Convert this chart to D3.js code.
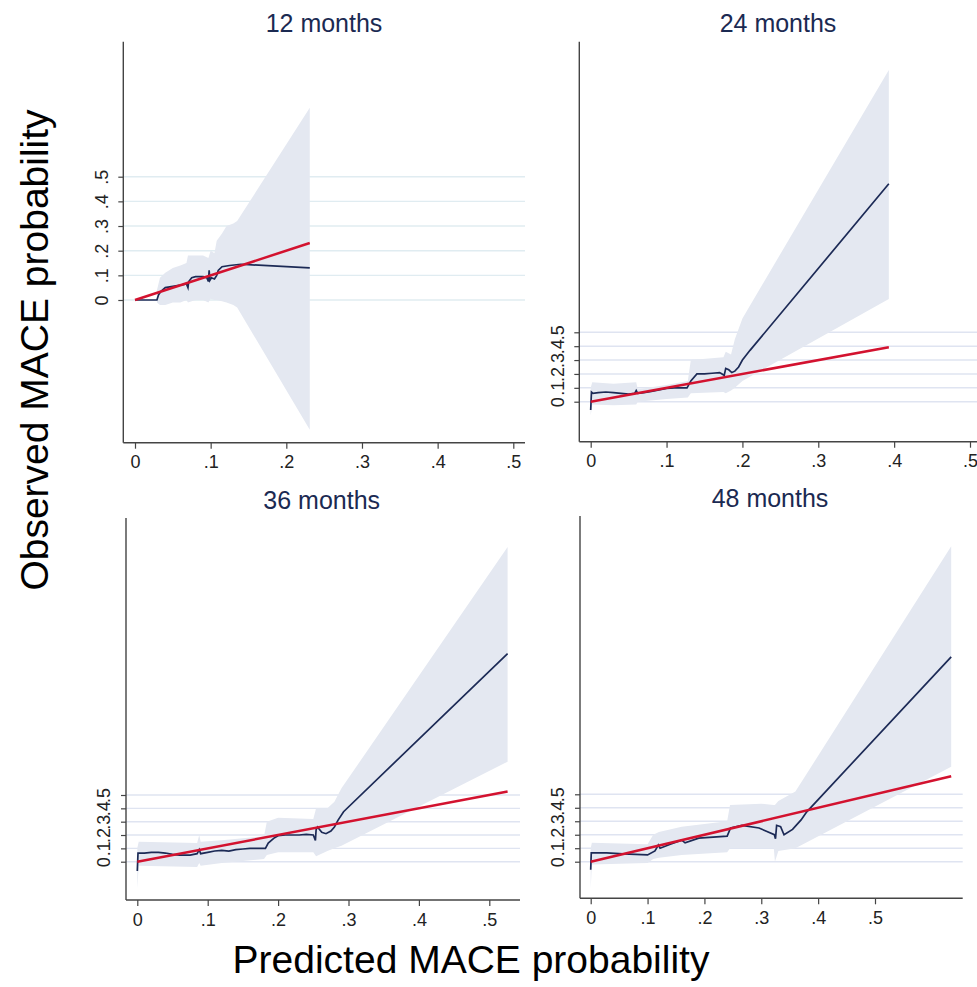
<!DOCTYPE html>
<html>
<head>
<meta charset="utf-8">
<script src="https://cdn.jsdelivr.net/npm/d3@7"></script>
<style>
  body { margin: 0; background: #fff; }
  svg { display: block; font-family: "Liberation Sans", Arial, sans-serif; }
</style>
</head>
<body>
<svg id="chart" width="977" height="987"></svg>
<script>
// ----- DATA -----
var panelTitles = ["12 months", "24 months", "36 months", "48 months"];
var xTicks = [0, .1, .2, .3, .4, .5];
var yTicks = [0, .1, .2, .3, .4, .5];
var xMax = [0.231, 0.393, 0.526, 0.634];

// observed (smoothed) curve, [predicted, observed]
var obs12 = [[0,0],[0.029,0],[0.031,0.02],[0.034,0.034],[0.04,0.05],[0.05,0.055],[0.06,0.06],[0.068,0.065],
  [0.07,0.05],[0.071,0.075],[0.075,0.09],[0.08,0.095],[0.09,0.095],[0.095,0.09],[0.097,0.075],[0.098,0.12],
  [0.099,0.08],[0.101,0.09],[0.105,0.085],[0.108,0.1],[0.11,0.12],[0.115,0.135],[0.125,0.14],[0.14,0.145],[0.231,0.13]];
var obs24 = [[0,-0.06],[0.001,0.07],[0.003,0.06],[0.01,0.065],[0.02,0.07],[0.03,0.065],[0.04,0.06],[0.05,0.055],
  [0.058,0.06],[0.06,0.08],[0.062,0.06],[0.07,0.065],[0.08,0.075],[0.09,0.085],[0.1,0.095],[0.11,0.1],[0.127,0.1],
  [0.132,0.15],[0.14,0.2],[0.15,0.2],[0.16,0.205],[0.17,0.21],[0.176,0.19],[0.178,0.24],[0.182,0.23],[0.186,0.21],
  [0.19,0.22],[0.195,0.25],[0.2,0.3],[0.21,0.37],[0.393,1.57]];
var obs36 = [[0,-0.07],[0.001,0.065],[0.01,0.065],[0.02,0.07],[0.03,0.07],[0.04,0.065],[0.05,0.055],[0.06,0.05],
  [0.075,0.05],[0.085,0.06],[0.088,0.09],[0.09,0.06],[0.1,0.07],[0.11,0.08],[0.12,0.085],[0.13,0.08],[0.14,0.09],
  [0.15,0.095],[0.16,0.1],[0.182,0.1],[0.186,0.14],[0.195,0.18],[0.2,0.195],[0.21,0.2],[0.23,0.2],[0.24,0.205],
  [0.25,0.2],[0.253,0.16],[0.254,0.24],[0.256,0.26],[0.262,0.22],[0.268,0.21],[0.275,0.23],[0.28,0.26],
  [0.285,0.31],[0.293,0.375],[0.526,1.56]];
var obs48 = [[0,-0.06],[0.001,0.065],[0.028,0.065],[0.057,0.058],[0.1,0.05],[0.113,0.08],[0.119,0.124],[0.122,0.1],
  [0.14,0.13],[0.16,0.16],[0.166,0.14],[0.19,0.175],[0.24,0.19],[0.246,0.25],[0.266,0.27],[0.296,0.25],[0.323,0.2],
  [0.325,0.17],[0.327,0.27],[0.334,0.26],[0.34,0.2],[0.355,0.24],[0.37,0.31],[0.38,0.37],[0.634,1.52]];

// confidence band
var band12X  = [0.029, 0.033, 0.04, 0.05, 0.06, 0.068, 0.07, 0.08, 0.09, 0.097, 0.1, 0.105, 0.108, 0.115, 0.121, 0.13, 0.135, 0.231];
var band12Hi = [0.04, 0.09, 0.11, 0.13, 0.14, 0.15, 0.18, 0.18, 0.18, 0.17, 0.2, 0.19, 0.24, 0.27, 0.3, 0.31, 0.32, 0.78];
var band12Lo = [-0.01, -0.02, -0.02, -0.01, -0.01, 0, -0.01, 0, 0, -0.01, 0.005, 0, 0, -0.005, -0.01, -0.02, -0.03, -0.526];

var band24X  = [0, 0.002, 0.03, 0.06, 0.062, 0.1, 0.128, 0.132, 0.175, 0.178, 0.185, 0.19, 0.2, 0.393];
var band24Hi = [0.1, 0.14, 0.13, 0.14, 0.09, 0.12, 0.15, 0.3, 0.32, 0.36, 0.34, 0.45, 0.6, 2.39];
var band24Lo = [-0.1, -0.02, -0.025, -0.02, 0.0, 0.02, 0.03, 0.06, 0.07, 0.06, 0.08, 0.1, 0.15, 0.74];

var band36X  = [0, 0.002, 0.085, 0.088, 0.09, 0.12, 0.18, 0.184, 0.2, 0.25, 0.254, 0.27, 0.28, 0.29, 0.526];
var band36Hi = [0.1, 0.15, 0.14, 0.2, 0.15, 0.16, 0.19, 0.3, 0.33, 0.32, 0.4, 0.4, 0.45, 0.55, 2.36];
var band36Lo = [-0.2, -0.03, -0.04, -0.01, -0.03, -0.01, 0.02, 0.05, 0.07, 0.07, 0.04, 0.08, 0.1, 0.12, 0.75];

var band48X  = [0, 0.002, 0.1, 0.11, 0.12, 0.16, 0.24, 0.245, 0.3, 0.322, 0.324, 0.33, 0.36, 0.634];
var band48Hi = [0.1, 0.14, 0.13, 0.2, 0.22, 0.26, 0.3, 0.42, 0.43, 0.42, 0.42, 0.45, 0.52, 2.34];
var band48Lo = [-0.2, -0.02, -0.01, 0.02, 0.03, 0.05, 0.07, 0.1, 0.1, 0.1, 0.0, 0.08, 0.1, 0.705];

// ----- LAYOUT (pixels) -----
// x0/x5 = pixel of 0 and .5 on x; y0/y5 = pixel of 0 and .5 on y
var layout = [
  { ax: 123.3, top: 41.7, bottom: 442.7, right: 525, x0: 135, x5: 513.3, y0: 300, y5: 176.7, tx: 324, ty: 32 },
  { ax: 579.3, top: 41.7, bottom: 441.7, right: 977, x0: 590.7, x5: 970, y0: 401.7, y5: 332.3, tx: 778, ty: 32 },
  { ax: 126, top: 518, bottom: 900, right: 520, x0: 137.3, x5: 489.3, y0: 861.7, y5: 795, tx: 321.7, ty: 509 },
  { ax: 580, top: 516, bottom: 898.3, right: 962.7, x0: 590.7, x5: 875, y0: 861.7, y5: 794.3, tx: 770, ty: 507 }
];

var panels = [
  { obs: obs12, bx: band12X, hi: band12Hi, lo: band12Lo },
  { obs: obs24, bx: band24X, hi: band24Hi, lo: band24Lo },
  { obs: obs36, bx: band36X, hi: band36Hi, lo: band36Lo },
  { obs: obs48, bx: band48X, hi: band48Hi, lo: band48Lo }
];

var svg = d3.select("#chart");
svg.append("rect").attr("width", 977).attr("height", 987).attr("fill", "#fff");

function fmt(d) {
  return d === 0 ? "0" : d3.format(".1f")(d).replace(/^0/, "");
}

panels.forEach(function(p, i) {
  var L = layout[i];
  var x = d3.scaleLinear().domain([0, 0.5]).range([L.x0, L.x5]);
  var y = d3.scaleLinear().domain([0, 0.5]).range([L.y0, L.y5]);
  var g = svg.append("g");

  // grid
  g.selectAll(".grid").data(yTicks).enter().append("line")
    .attr("x1", L.ax).attr("x2", L.right)
    .attr("y1", function(d) { return y(d); })
    .attr("y2", function(d) { return y(d); })
    .attr("stroke", i == 0 ? "#e0ecf1" : "#dfe4f1").attr("stroke-width", 1.4);

  // band
  var bandRows = p.bx.map(function(v, k) { return { x: v, lo: p.lo[k], hi: p.hi[k] }; });
  g.append("path")
    .datum(bandRows)
    .attr("fill", "#e4e8f1")
    .attr("d", d3.area()
      .x(function(d) { return x(d.x); })
      .y0(function(d) { return y(d.lo); })
      .y1(function(d) { return y(d.hi); }));

  // observed
  g.append("path")
    .datum(p.obs)
    .attr("fill", "none")
    .attr("stroke", "#1c2a56")
    .attr("stroke-width", 1.7)
    .attr("d", d3.line()
      .x(function(d) { return x(d[0]); })
      .y(function(d) { return y(d[1]); }));

  // reference (perfect calibration)
  g.append("path")
    .datum([0, xMax[i]])
    .attr("fill", "none")
    .attr("stroke", "#d3122f")
    .attr("stroke-width", 2.5)
    .attr("d", d3.line()
      .x(function(d) { return x(d); })
      .y(function(d) { return y(d); }));

  // x axis
  var xa = g.append("g")
    .attr("transform", "translate(0," + L.bottom + ")")
    .call(d3.axisBottom(x).tickValues(xTicks).tickFormat(fmt).tickSize(6).tickSizeOuter(0));
  xa.select(".domain").remove();
  xa.append("line").attr("x1", L.ax).attr("x2", L.right).attr("stroke", "#444").attr("stroke-width", 1.4);
  xa.selectAll(".tick line").attr("stroke", "#444").attr("stroke-width", 1.2);
  xa.selectAll("text").attr("y", 13).attr("dy", "0.71em")
    .attr("fill", "#222").style("font-size", "18px").style("font-family", "Liberation Sans, Arial, sans-serif");

  // y axis
  var ya = g.append("g")
    .attr("transform", "translate(" + L.ax + ",0)")
    .call(d3.axisLeft(y).tickValues(yTicks).tickFormat(fmt).tickSize(5).tickSizeOuter(0));
  ya.select(".domain").remove();
  ya.append("line").attr("y1", L.top).attr("y2", L.bottom).attr("stroke", "#444").attr("stroke-width", 1.4);
  ya.selectAll(".tick line").attr("stroke", "#444").attr("stroke-width", 1.2);
  ya.selectAll("text")
    .attr("x", 0).attr("y", 0).attr("dy", "0.36em")
    .attr("transform", "translate(-22,0) rotate(-90)")
    .attr("text-anchor", "middle")
    .attr("fill", "#222").style("font-size", "18px").style("font-family", "Liberation Sans, Arial, sans-serif");

  // title
  g.append("text")
    .attr("x", L.tx).attr("y", L.ty)
    .attr("text-anchor", "middle")
    .attr("fill", "#1b2a52")
    .style("font-size", "25px")
    .text(panelTitles[i]);
});

// overall axis titles
svg.append("text")
  .attr("x", 471).attr("y", 973)
  .attr("text-anchor", "middle")
  .attr("fill", "#000")
  .style("font-size", "39px")
  .text("Predicted MACE probability");

svg.append("text")
  .attr("transform", "translate(48,350) rotate(-90)")
  .attr("text-anchor", "middle")
  .attr("fill", "#000")
  .style("font-size", "39px")
  .text("Observed MACE probability");
</script>
</body>
</html>
